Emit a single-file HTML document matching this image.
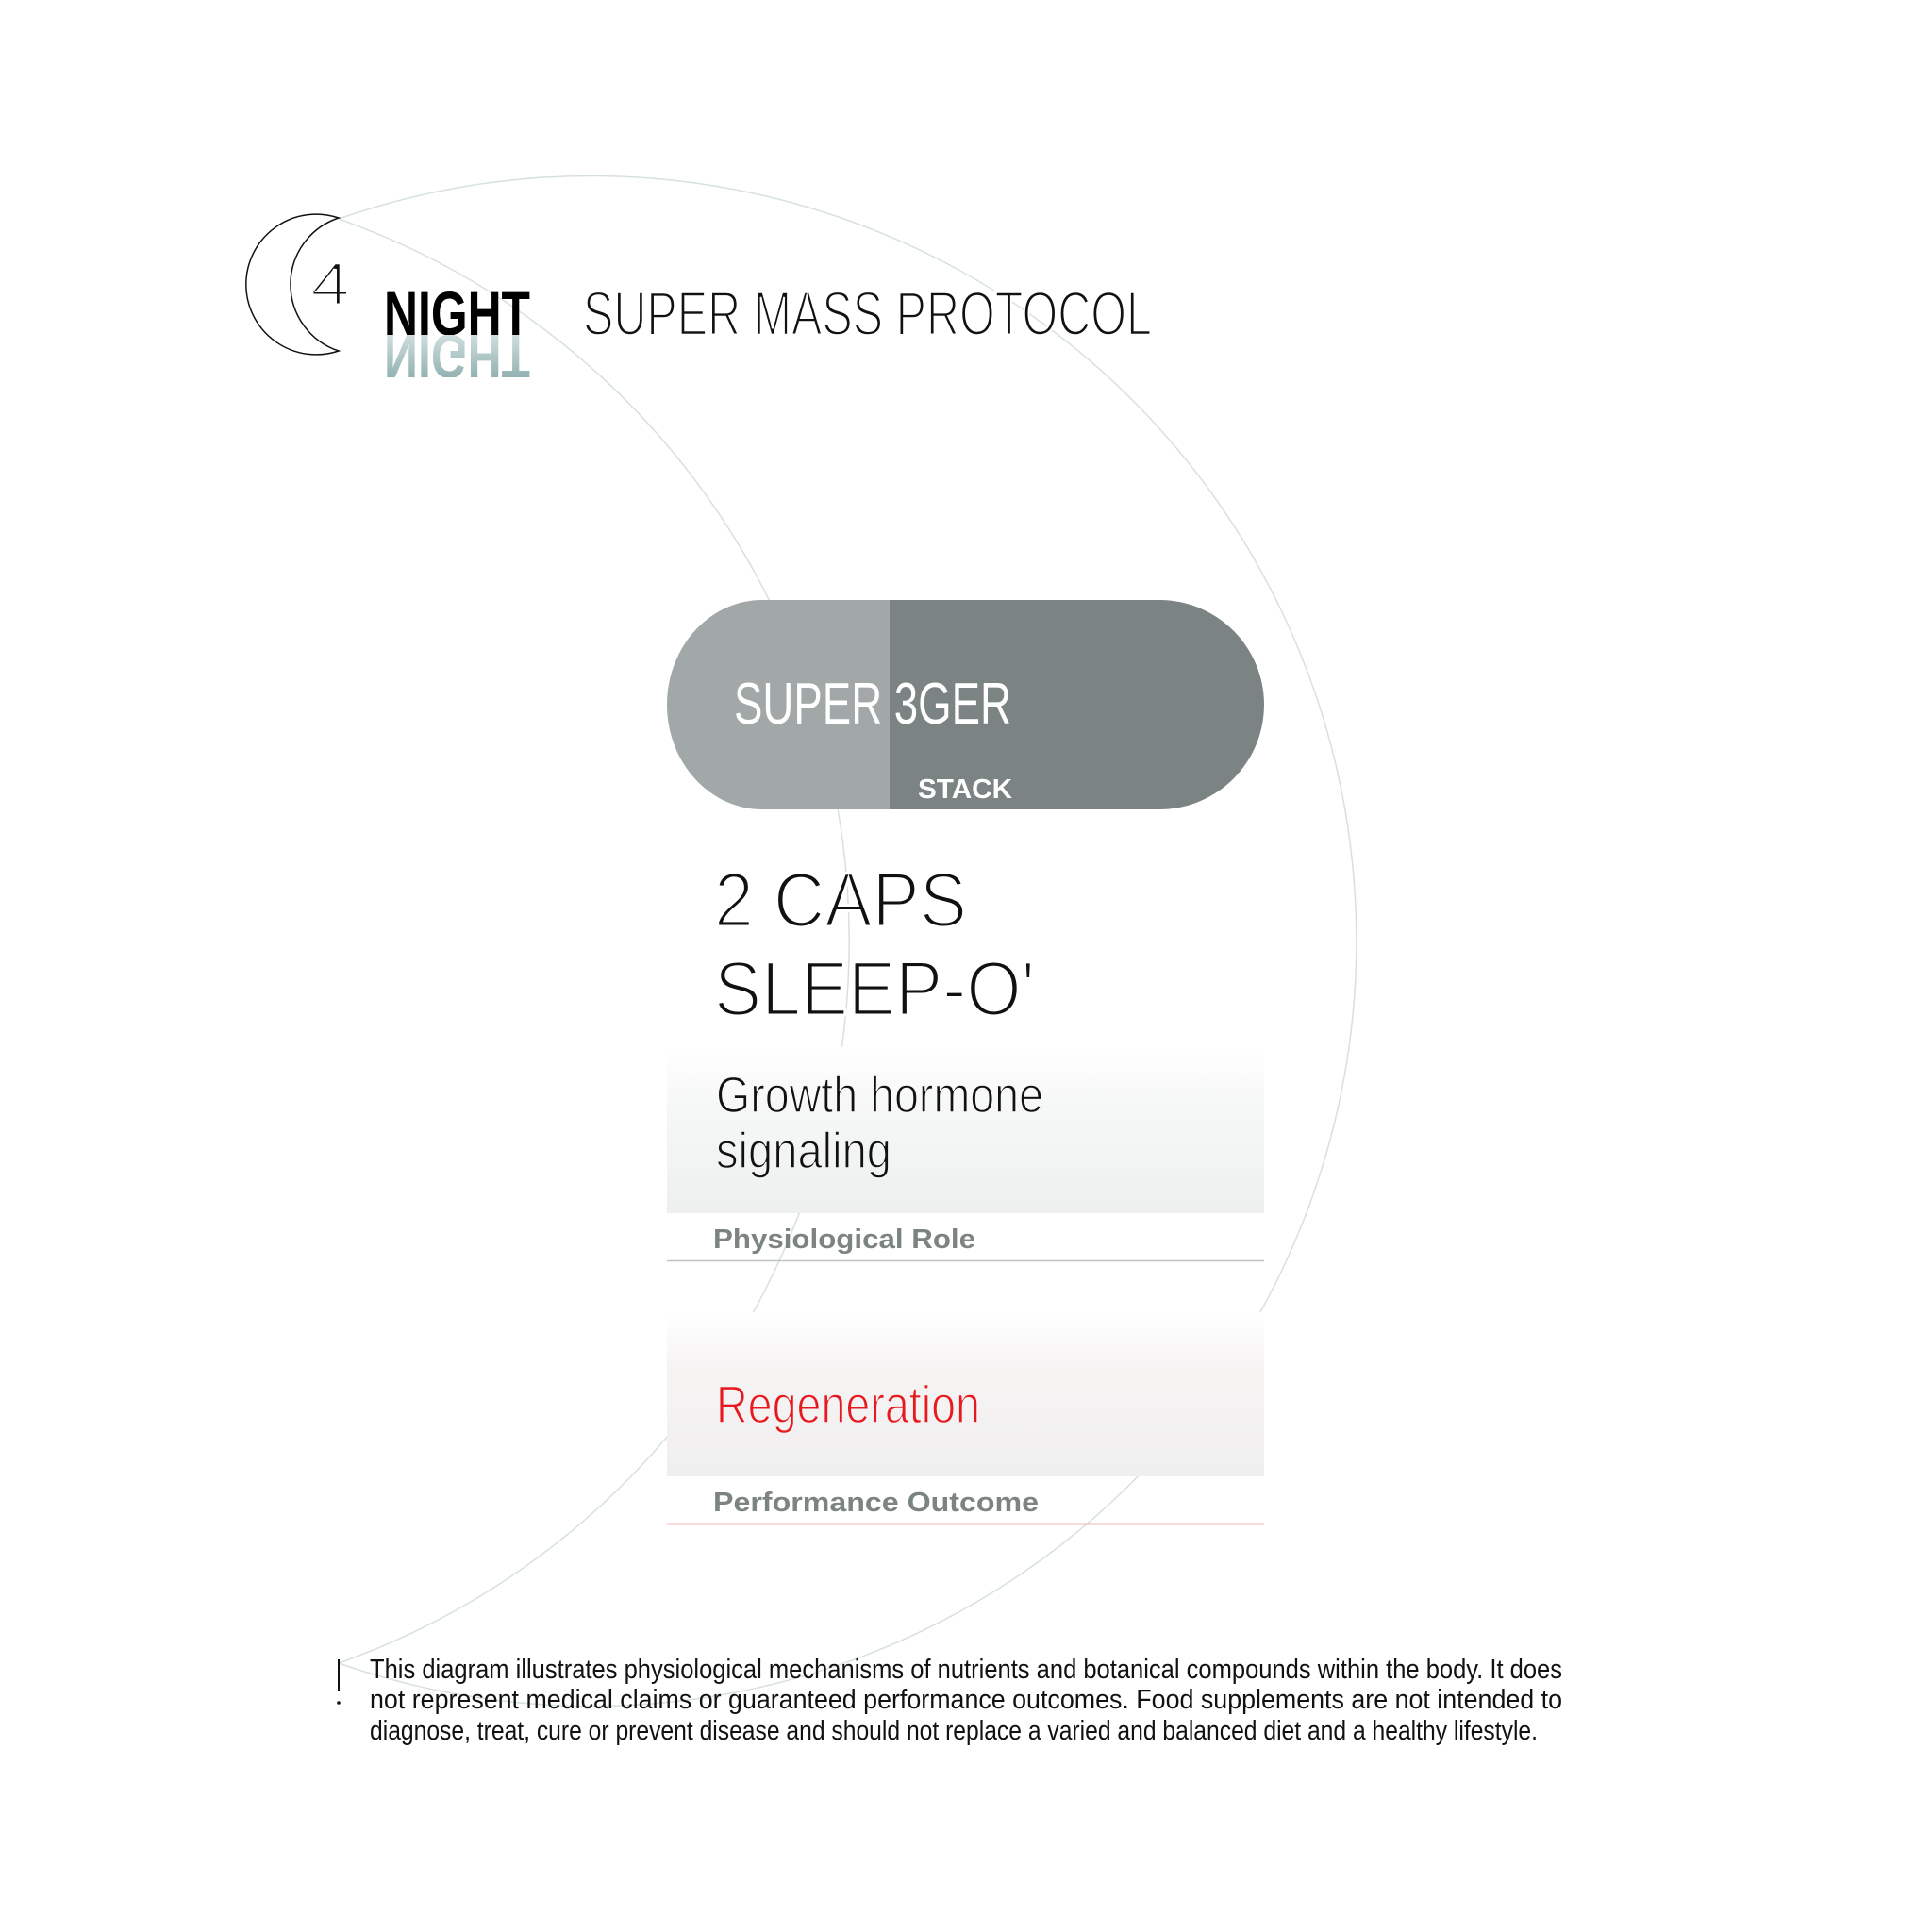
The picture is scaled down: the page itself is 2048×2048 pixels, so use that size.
<!DOCTYPE html>
<html><head><meta charset="utf-8"><style>html,body{margin:0;padding:0;background:#fff}svg{display:block}</style></head>
<body>
<svg width="2048" height="2048" viewBox="0 0 2048 2048" xmlns="http://www.w3.org/2000/svg">
<defs>
<linearGradient id="g1" x1="0" y1="0" x2="0" y2="1"><stop offset="0" stop-color="#fff"/><stop offset="0.35" stop-color="#f6f7f7"/><stop offset="1" stop-color="#eef0f0"/></linearGradient>
<linearGradient id="g2" x1="0" y1="0" x2="0" y2="1"><stop offset="0" stop-color="#fff"/><stop offset="0.35" stop-color="#f6f3f3"/><stop offset="1" stop-color="#f0efef"/></linearGradient>
<linearGradient id="b1" x1="0" y1="0" x2="0" y2="1"><stop offset="0" stop-color="#fff"/><stop offset="0.7" stop-color="#e4e6e6"/><stop offset="1" stop-color="#bfc4c4"/></linearGradient>
<linearGradient id="b2" x1="0" y1="0" x2="0" y2="1"><stop offset="0" stop-color="#fff"/><stop offset="0.7" stop-color="#f4d0d0"/><stop offset="1" stop-color="#ee7070"/></linearGradient>
<linearGradient id="rf" x1="0" y1="0" x2="0" y2="1"><stop offset="0" stop-color="#7fa3a3"/><stop offset="1" stop-color="#e2ebeb"/></linearGradient>
<clipPath id="rc"><rect x="400" y="355" width="170" height="45"/></clipPath>
</defs>
<!-- background arcs -->
<path d="M359 232 A 811 811 0 1 1 359 1763" fill="none" stroke="#d6e1e0" stroke-width="1.5"/>
<path d="M359 232 A 812 812 0 0 1 359 1763" fill="none" stroke="#d6e1e0" stroke-width="1.5"/>
<!-- moon -->
<path d="M359 231 A 74.4 74.4 0 1 0 359 372 A 74.2 74.2 0 0 1 359 231 Z" fill="none" stroke="#111" stroke-width="1.5"/>
<text x="329" y="323" font-family="Liberation Sans, sans-serif" font-size="64" fill="#111" stroke="#fff" stroke-width="3" textLength="42" lengthAdjust="spacingAndGlyphs">4</text>
<!-- titles -->
<text x="407" y="355" font-family="Liberation Sans, sans-serif" font-weight="bold" font-size="66" fill="#000" textLength="155" lengthAdjust="spacingAndGlyphs">NIGHT</text>
<g clip-path="url(#rc)"><text x="407" y="-355" transform="scale(1,-1)" font-family="Liberation Sans, sans-serif" font-weight="bold" font-size="66" fill="url(#rf)" textLength="155" lengthAdjust="spacingAndGlyphs">NIGHT</text></g>
<text x="618" y="355" font-family="Liberation Sans, sans-serif" font-size="66" fill="#111" stroke="#fff" stroke-width="2.5" textLength="603" lengthAdjust="spacingAndGlyphs">SUPER MASS PROTOCOL</text>
<!-- pill -->
<path d="M808 636 H943 V858 H808 A 101 111 0 0 1 808 636 Z" fill="#a1a8a7"/>
<path d="M943 636 H1229 A 111 111 0 0 1 1229 858 H943 Z" fill="#7c8383"/>
<text x="778" y="767" font-family="Liberation Sans, sans-serif" font-size="62" fill="#fff" textLength="294" lengthAdjust="spacingAndGlyphs">SUPER 3GER</text>
<text x="973" y="846" font-family="Liberation Sans, sans-serif" font-weight="bold" font-size="29" fill="#fff" textLength="100" lengthAdjust="spacingAndGlyphs">STACK</text>
<!-- caps -->
<text x="757" y="982" font-family="Liberation Sans, sans-serif" font-size="82" fill="#111" stroke="#fff" stroke-width="3" textLength="268" lengthAdjust="spacingAndGlyphs">2 CAPS</text>
<text x="757" y="1076" font-family="Liberation Sans, sans-serif" font-size="82" fill="#111" stroke="#fff" stroke-width="3" textLength="340" lengthAdjust="spacingAndGlyphs">SLEEP-O'</text>
<!-- box1 -->
<rect x="707" y="1110" width="633" height="176" fill="url(#g1)"/>
<line x1="707.5" y1="1110" x2="707.5" y2="1337" stroke="url(#b1)" stroke-width="1.5"/>
<line x1="1339.5" y1="1110" x2="1339.5" y2="1337" stroke="url(#b1)" stroke-width="1.5"/>
<line x1="707" y1="1336.5" x2="1340" y2="1336.5" stroke="#bfc4c4" stroke-width="1.5"/>
<text x="759" y="1179" font-family="Liberation Sans, sans-serif" font-size="54" fill="#111" stroke="#f8f8f8" stroke-width="1.5" textLength="347" lengthAdjust="spacingAndGlyphs">Growth hormone</text>
<text x="759" y="1238" font-family="Liberation Sans, sans-serif" font-size="54" fill="#111" stroke="#f2f3f3" stroke-width="1.5" textLength="186" lengthAdjust="spacingAndGlyphs">signaling</text>
<text x="756" y="1323" font-family="Liberation Sans, sans-serif" font-weight="bold" font-size="29" fill="#7c8383" textLength="278" lengthAdjust="spacingAndGlyphs">Physiological Role</text>
<!-- box2 -->
<rect x="707" y="1391" width="633" height="174" fill="url(#g2)"/>
<line x1="707.5" y1="1391" x2="707.5" y2="1616" stroke="url(#b2)" stroke-width="1.5"/>
<line x1="1339.5" y1="1391" x2="1339.5" y2="1616" stroke="url(#b2)" stroke-width="1.5"/>
<line x1="707" y1="1615.5" x2="1340" y2="1615.5" stroke="#ee7070" stroke-width="1.5"/>
<text x="759" y="1508" font-family="Liberation Sans, sans-serif" font-size="56" fill="#e8191e" stroke="#f3f2f2" stroke-width="1.5" textLength="280" lengthAdjust="spacingAndGlyphs">Regeneration</text>
<text x="756" y="1602" font-family="Liberation Sans, sans-serif" font-weight="bold" font-size="29" fill="#7c8383" textLength="345" lengthAdjust="spacingAndGlyphs">Performance Outcome</text>
<!-- disclaimer -->
<line x1="359" y1="1759" x2="359" y2="1792" stroke="#111" stroke-width="2"/>
<circle cx="359" cy="1805" r="1.8" fill="#111"/>
<g font-family="Liberation Sans, sans-serif" font-size="29" fill="#111">
<text x="392" y="1779" textLength="1264" lengthAdjust="spacingAndGlyphs">This diagram illustrates physiological mechanisms of nutrients and botanical compounds within the body. It does</text>
<text x="392" y="1811" textLength="1264" lengthAdjust="spacingAndGlyphs">not represent medical claims or guaranteed performance outcomes. Food supplements are not intended to</text>
<text x="392" y="1844" textLength="1238" lengthAdjust="spacingAndGlyphs">diagnose, treat, cure or prevent disease and should not replace a varied and balanced diet and a healthy lifestyle.</text>
</g>
</svg>
</body></html>
